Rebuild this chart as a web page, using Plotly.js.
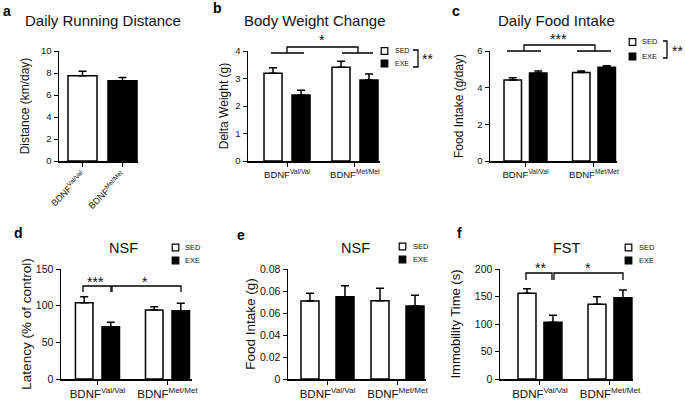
<!DOCTYPE html>
<html>
<head>
<meta charset="utf-8">
<script src="https://cdn.plot.ly/plotly-3.0.1.min.js"></script>
<style>
  body { margin: 0; background: #fff; }
  #chart { width: 685px; height: 400px; }
</style>
</head>
<body>
<div id="chart"></div>
<script>
// genotype groups
const genotypes = ["BDNF<sup>Val/Val</sup>", "BDNF<sup>Met/Met</sup>"];

// a - daily running distance (km/day)
const runDistance = [7.75, 7.3];
const runDistanceErr = [0.4, 0.3];

// b - body weight change (g)
const weightSed = [3.19, 3.41];
const weightSedErr = [0.2, 0.22];
const weightExe = [2.4, 2.95];
const weightExeErr = [0.17, 0.21];

// c - daily food intake (g/day)
const foodSed = [4.42, 4.83];
const foodSedErr = [0.12, 0.08];
const foodExe = [4.8, 5.11];
const foodExeErr = [0.11, 0.08];

// d - NSF latency (% of control)
const nsfSed = [104, 94];
const nsfSedErr = [8, 4.5];
const nsfExe = [71.4, 93.2];
const nsfExeErr = [6, 10];

// e - NSF food intake (g)
const nsfFoodSed = [0.0709, 0.0712];
const nsfFoodSedErr = [0.007, 0.0112];
const nsfFoodExe = [0.0748, 0.0664];
const nsfFoodExeErr = [0.01, 0.0097];
const nsfFoodTicks = [0, 0.02, 0.04, 0.06, 0.08, 0.1];
const nsfFoodTickText = ["0", "0.02", "0.04", "0.06", "0.06", "0.08"];

// f - FST immobility time (s)
const fstSed = [155.8, 135.8];
const fstSedErr = [8.2, 13.9];
const fstExe = [103, 147.9];
const fstExeErr = [12.8, 13.9];

const FONT = "Liberation Sans, Arial, sans-serif";
const INK = "#111";
const W = 685, H = 400;
const px = v => v / W;
const py = v => 1 - v / H;

function errBar(err) {
  return {
    type: "data", symmetric: false, array: err, arrayminus: err.map(() => 0),
    color: "#000", thickness: 1.5, width: 4
  };
}

function barPair(ax, sed, sedErr, exe, exeErr, w, g) {
  const common = {
    type: "bar", x: genotypes, xaxis: "x" + ax, yaxis: "y" + ax,
    width: w, showlegend: false, hoverinfo: "skip", cliponaxis: false
  };
  return [
    { ...common, y: sed, offset: -(w + g / 2), name: "SED",
      marker: { color: "#fff", line: { color: "#000", width: 1.5 } }, error_y: errBar(sedErr) },
    { ...common, y: exe, offset: g / 2, name: "EXE",
      marker: { color: "#000", line: { color: "#000", width: 1.5 } }, error_y: errBar(exeErr) }
  ];
}

const data = [
  {
    type: "bar", x: genotypes, y: runDistance, xaxis: "x", yaxis: "y", width: 0.725,
    marker: { color: ["#fff", "#000"], line: { color: "#000", width: 1.5 } },
    error_y: errBar(runDistanceErr), showlegend: false, hoverinfo: "skip", cliponaxis: false
  },
  ...barPair("2", weightSed, weightSedErr, weightExe, weightExeErr, 0.265, 0.147),
  ...barPair("3", foodSed, foodSedErr, foodExe, foodExeErr, 0.255, 0.117),
  ...barPair("4", nsfSed, nsfSedErr, nsfExe, nsfExeErr, 0.25, 0.129),
  ...barPair("5", nsfFoodSed, nsfFoodSedErr, nsfFoodExe, nsfFoodExeErr, 0.257, 0.243),
  ...barPair("6", fstSed, fstSedErr, fstExe, fstExeErr, 0.257, 0.114)
];

function xAxis(x0, x1, y, range, size, extra) {
  return {
    domain: [px(x0), px(x1)], anchor: y, type: "category", range,
    showline: true, linecolor: "#000", linewidth: 1.5, mirror: false,
    ticks: "outside", ticklen: 4, tickwidth: 1, tickcolor: "#000",
    showgrid: false, zeroline: false, fixedrange: true,
    tickfont: { family: FONT, size, color: INK }, ...extra
  };
}

function yAxis(y0, y1, x, range, dtick, title, tsize, titleSize, standoff, extra) {
  return {
    domain: [py(y1), py(y0)], anchor: x, range, dtick, tick0: 0,
    showline: true, linecolor: "#000", linewidth: 1.5,
    ticks: "outside", ticklen: 4, tickwidth: 1, tickcolor: "#000",
    showgrid: false, zeroline: false, fixedrange: true,
    tickfont: { family: FONT, size: tsize, color: INK },
    title: { text: title, standoff, font: { family: FONT, size: titleSize, color: INK } },
    ...extra
  };
}

const shapes = [];
const annotations = [];

function text(x, y, t, size, opts) {
  annotations.push({
    xref: "paper", yref: "paper", x: px(x), y: py(y), text: t, showarrow: false,
    xanchor: "center", yanchor: "middle",
    font: { family: FONT, size, color: INK }, ...opts
  });
}

function polyline(pts) {
  const d = pts.map((p, i) => (i ? "L" : "M") + px(p[0]).toFixed(5) + "," + py(p[1]).toFixed(5)).join(" ");
  shapes.push({ type: "path", xref: "paper", yref: "paper", path: d, line: { color: "#000", width: 1.3 } });
}

function legendKey(x, ySed, yExe, tx, size) {
  const s = 3.3;
  shapes.push({ type: "rect", xref: "paper", yref: "paper", x0: px(x - s), x1: px(x + s), y0: py(ySed + s), y1: py(ySed - s),
    fillcolor: "#fff", line: { color: "#000", width: 1.2 } });
  shapes.push({ type: "rect", xref: "paper", yref: "paper", x0: px(x - s), x1: px(x + s), y0: py(yExe + s), y1: py(yExe - s),
    fillcolor: "#000", line: { color: "#000", width: 1.2 } });
  text(tx, ySed, "SED", size, { xanchor: "left" });
  text(tx, yExe, "EXE", size, { xanchor: "left" });
}

// panel titles and letters
text(103, 20, "Daily Running Distance", 15);
text(314, 20, "Body Weight Change", 15);
text(556, 20, "Daily Food Intake", 15);
text(123, 248, "NSF", 14.5);
text(355, 248, "NSF", 14.5);
text(567, 248, "FST", 14.5);
const letterFont = { family: FONT, size: 14, color: "#000", weight: "bold" };
[["a", 7, 11], ["b", 217, 8], ["c", 456, 11], ["d", 18, 233], ["e", 241, 235], ["f", 459, 233]].forEach(([t, x, y]) =>
  text(x, y, "<b>" + t + "</b>", 14, { font: letterFont }));

// legends
legendKey(384.5, 51, 63.5, 393, 7);
legendKey(632.5, 42, 56.5, 640, 7.5);
legendKey(175.5, 247.5, 260.5, 183, 7.5);
legendKey(402.5, 246.5, 259.5, 411, 7.5);
legendKey(628.5, 247.5, 260.5, 637, 7.5);
polyline([[413, 50], [418, 50], [418, 67], [413, 67]]);
text(427, 59, "**", 14);
polyline([[663, 41], [667, 41], [667, 58], [663, 58]]);
text(677, 51, "**", 14);

// significance brackets
polyline([[271, 53], [304, 53]]);
polyline([[342, 53], [373, 53]]);
polyline([[287, 53], [287, 47], [358, 47], [358, 53]]);
text(322, 40, "*", 14);
polyline([[507, 51], [541, 51]]);
polyline([[577, 51], [611, 51]]);
polyline([[524, 51], [524, 45], [595, 45], [595, 51]]);
text(558, 39, "***", 14);
polyline([[83, 292], [83, 286], [111, 286], [111, 292]]);
polyline([[112, 292], [112, 286], [181, 286], [181, 292]]);
text(95, 282, "***", 14);
text(145, 282, "*", 14);
polyline([[526, 280], [526, 273], [552, 273], [552, 280]]);
polyline([[554, 280], [554, 273], [623, 273], [623, 280]]);
text(540, 268, "**", 14);
text(588, 268, "*", 14);

const layout = {
  width: W, height: H,
  margin: { l: 0, r: 0, t: 0, b: 0, pad: 0 },
  paper_bgcolor: "#fff", plot_bgcolor: "#fff",
  barmode: "overlay",
  font: { family: FONT, color: INK },
  showlegend: false,
  xaxis: xAxis(59, 138, "y", [-0.5875, 1.3875], 9, { tickangle: -45 }),
  yaxis: yAxis(51, 161, "x", [0, 10], 2, "Distance (km/day)", 9.5, 12, 9),
  xaxis2: xAxis(248, 380, "y2", [-0.574, 1.368], 9.5),
  yaxis2: yAxis(51, 161, "x2", [0, 4], 1, "Delta Weight (g)", 9.5, 12, 4),
  xaxis3: xAxis(490, 617, "y3", [-0.518, 1.336], 9.5),
  yaxis3: yAxis(51, 161, "x3", [0, 6], 2, "Food Intake (g/day)", 9.5, 12, 11),
  xaxis4: xAxis(61, 192, "y4", [-0.521, 1.35], 11.5),
  yaxis4: yAxis(269, 379, "x4", [0, 150], 50, "Latency (% of control)", 10.5, 13.5, 1),
  xaxis5: xAxis(288, 426, "y5", [-0.564, 1.407], 11.5),
  yaxis5: yAxis(269, 379, "x5", [0, 0.1], null, "Food Intake (g)", 10.5, 13.5, 1,
    { tickmode: "array", tickvals: nsfFoodTicks, ticktext: nsfFoodTickText }),
  xaxis6: xAxis(500, 633, "y6", [-0.571, 1.329], 11.5),
  yaxis6: yAxis(269, 379, "x6", [0, 200], 50, "Immobility Time (s)", 10.5, 13, 11),
  shapes, annotations
};

Plotly.newPlot("chart", data, layout, { displayModeBar: false, staticPlot: true });
</script>
</body>
</html>
